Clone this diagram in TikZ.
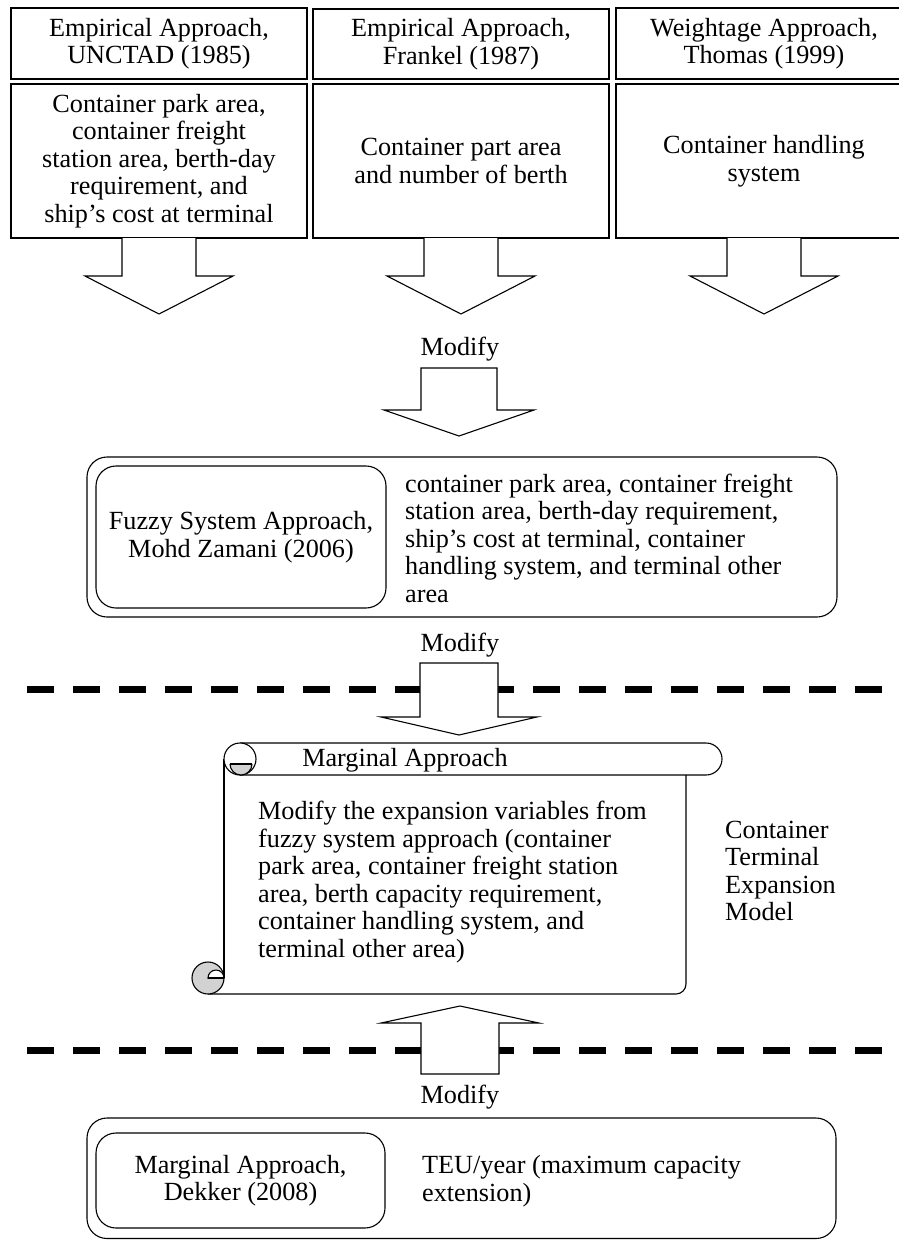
\documentclass[tikz,border=0pt]{standalone}
\usepackage{fontspec}
\setmainfont{Liberation Serif}

\begin{document}
\begin{tikzpicture}[x=1pt, y=-1pt, font=\fontsize{26.2}{27.5}\selectfont,
    box/.style={draw, line width=1.3pt, inner sep=0pt, align=center},
    rbox/.style={draw, line width=1.1pt, rounded corners=20pt, inner sep=0pt, align=center},
    fat/.style={draw, line width=1.1pt, fill=white},
    cut/.style={line width=7pt, dash pattern=on 27pt off 19pt},
    txt/.style={inner sep=0pt, align=left, anchor=west}]
    \useasboundingbox (0,0) rectangle (898,1240);

    % three source approaches
    \node[box, minimum width=296, minimum height=71] (emp85) at (159,43.5) {Empirical Approach,\\UNCTAD (1985)};
    \node[box, minimum width=296, minimum height=70] (emp87) at (461,44) {Empirical Approach,\\Frankel (1987)};
    \node[box, minimum width=296, minimum height=71] (wgt99) at (764,43.5) {Weightage Approach,\\Thomas (1999)};
    \node[box, minimum width=296, minimum height=154] (var85) at (159,161) {Container park area,\\container freight\\station area, berth-day\\requirement, and\\ship’s cost at terminal};
    \node[box, minimum width=296, minimum height=154] (var87) at (461,161) {Container part area\\and number of berth};
    \node[box, minimum width=296, minimum height=154] (var99) at (764,161) {Container handling\\system};
    \foreach \cx in {159,461,764}
      \draw[fat] (\cx-37,238) -- (\cx-37,276) -- (\cx-74,276) -- (\cx,314) -- (\cx+74,276) -- (\cx+37,276) -- (\cx+37,238);

    \node (mod1) at (460,349) {Modify};
    \draw[fat] (421,368) -- (421,410) -- (384,410) -- (459,436) -- (534,410) -- (497,410) -- (497,368) -- cycle;

    % fuzzy system
    \node[rbox, minimum width=750, minimum height=160] (fuzzout) at (462,537) {};
    \node[rbox, minimum width=290, minimum height=142] (fuzzin) at (241,537) {Fuzzy System Approach,\\Mohd Zamani (2006)};
    \node[txt] (fuzzvars) at (405,538) {container park area, container freight\\station area, berth-day requirement,\\ship’s cost at terminal, container\\handling system, and terminal other\\area};

    \node (mod2) at (460,645) {Modify};
    \draw[cut] (27,689) -- (898,689);
    \draw[cut] (27,1050) -- (898,1050);
    \draw[fat] (420,663) -- (420,717) -- (381,717) -- (459,735) -- (537,717) -- (498,717) -- (498,663) -- cycle;

    % scroll
    \begin{scope}[line width=1.1pt]
      \draw[rounded corners=10pt] (208,994) -- (686,994) -- (686,775);
      \draw (224,759) -- (224,978);
      \draw[rounded corners=16pt] (240,743) -- (722,743) -- (722,775) -- (240,775);
      \draw[fill=white] (240,759) circle[radius=16];
      \begin{scope}
        \clip (220,764) rectangle (262,780);
        \draw[fill=gray!35] (241,764) circle[radius=11];
      \end{scope}
      \draw (230,764) -- (252,764);
      \draw[fill=gray!35] (208,978) circle[radius=16];
      \begin{scope}
        \clip (200,960) rectangle (230,978);
        \draw[fill=white] (216,978) circle[radius=8];
      \end{scope}
      \draw (208,978) -- (224,978);
    \end{scope}
    \node (margtitle) at (405,760) {Marginal Approach};
    \node[txt] (margvars) at (258,882) {Modify the expansion variables from\\fuzzy system approach (container\\park area, container freight station\\area, berth capacity requirement,\\container handling system, and\\terminal other area)};
    \node[txt] (ctem) at (725,871) {Container\\Terminal\\Expansion\\Model};

    \draw[fat] (421,1074) -- (421,1023) -- (381,1023) -- (460,1006) -- (539,1023) -- (499,1023) -- (499,1074) -- cycle;
    \node (mod3) at (460,1097) {Modify};

    % marginal approach
    \node[rbox, minimum width=749, minimum height=120.5] (dekout) at (461.5,1178.25) {};
    \node[rbox, minimum width=289, minimum height=95] (dekin) at (240.5,1180.5) {Marginal Approach,\\Dekker (2008)};
    \node[txt] (teu) at (422,1181) {TEU/year (maximum capacity\\extension)};
\end{tikzpicture}
\end{document}
